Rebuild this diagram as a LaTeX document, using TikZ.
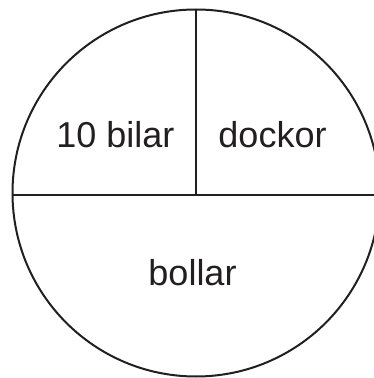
\documentclass[tikz,border=0pt]{standalone}
\usepackage{fontspec}
\setmainfont{Liberation Sans}
\definecolor{ink}{HTML}{231F20}
\begin{document}
\begin{tikzpicture}[x=1pt,y=1pt,
  part/.style={draw=ink,line width=2pt},
  lbl/.style={inner sep=0pt,anchor=base,text=ink,font=\fontsize{36}{40}\selectfont}]
\useasboundingbox (0,0) rectangle (374,378);
\coordinate (c) at (196,185);
\draw[part] (c) circle[radius=183.5];
\coordinate (top) at (196,368);
\coordinate (mid) at (196,183);
\coordinate (l) at (12.5,183);
\coordinate (r) at (379.5,183);
\draw[part] (l) -- (r);
\draw[part] (top) -- (mid);
\node[lbl] (bilar) at (115.5,230) {10 bilar};
\node[lbl] (dockor) at (272.5,230) {dockor};
\node[lbl] (bollar) at (192.5,92) {bollar};
\end{tikzpicture}
\end{document}
